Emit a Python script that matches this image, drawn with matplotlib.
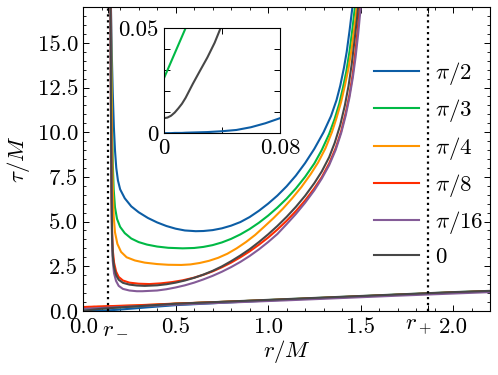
import matplotlib
matplotlib.use("Agg")
import matplotlib.pyplot as plt
import matplotlib.transforms as mtransforms
from matplotlib.ticker import MultipleLocator, FormatStrFormatter

plt.rcParams["font.family"] = ["cmr10"]
plt.rcParams["mathtext.fontset"] = "cm"
plt.rcParams["axes.formatter.use_mathtext"] = True
plt.rcParams["font.size"] = 16.5

# horizon radii (a = 0.5 M)
r_minus = 0.134
r_plus = 1.866

colors = ["#0C5DA5", "#00B945", "#FF9500", "#FF2C00", "#845B97", "#474747"]
labels = [r"$\pi/2$", r"$\pi/3$", r"$\pi/4$", r"$\pi/8$", r"$\pi/16$", r"$0$"]

# upper branches (r, tau)
r_pi2 = [0.150, 0.155, 0.160, 0.166, 0.172, 0.179, 0.188, 0.200, 0.225, 0.26, 0.30, 0.35, 0.40, 0.45,
         0.50, 0.55, 0.609, 0.65, 0.70, 0.75, 0.80, 0.85, 0.90, 0.95, 1.00, 1.05, 1.10, 1.15, 1.20,
         1.25, 1.30, 1.34, 1.37, 1.39, 1.41, 1.425, 1.44, 1.45, 1.457]
t_pi2 = [17.1, 14.3, 12.2, 10.3, 9.0, 8.0, 7.3, 6.8, 6.3, 5.85, 5.52, 5.2, 4.95, 4.75,
         4.6, 4.5, 4.46, 4.47, 4.52, 4.62, 4.77, 4.97, 5.25, 5.6, 6.0, 6.45, 6.97, 7.57, 8.27,
         9.07, 10.0, 10.9, 11.8, 12.6, 13.6, 14.5, 15.65, 16.5, 17.1]

r_pi3 = [0.149, 0.152, 0.156, 0.160, 0.165, 0.172, 0.183, 0.200, 0.225, 0.26, 0.30, 0.345, 0.40, 0.46,
         0.538, 0.60, 0.65, 0.70, 0.75, 0.80, 0.85, 0.90, 0.95, 1.00, 1.05, 1.10, 1.15, 1.20, 1.25,
         1.29, 1.33, 1.36, 1.385, 1.405, 1.423, 1.44, 1.455, 1.466, 1.472]
t_pi3 = [17.1, 13.5, 10.5, 8.3, 6.8, 5.8, 5.15, 4.7, 4.35, 4.05, 3.85, 3.71, 3.6, 3.53,
         3.5, 3.52, 3.58, 3.68, 3.83, 4.03, 4.28, 4.58, 4.93, 5.33, 5.78, 6.28, 6.85, 7.5, 8.25,
         9.0, 9.9, 10.75, 11.6, 12.5, 13.4, 14.5, 15.7, 16.7, 17.2]

r_pi4 = [0.150, 0.153, 0.156, 0.160, 0.165, 0.172, 0.185, 0.205, 0.235, 0.28, 0.333, 0.40, 0.46, 0.53,
         0.58, 0.63, 0.68, 0.73, 0.78, 0.83, 0.88, 0.93, 0.98, 1.03, 1.08, 1.13, 1.18, 1.23, 1.27,
         1.31, 1.345, 1.37, 1.395, 1.415, 1.435, 1.452, 1.467, 1.477, 1.483]
t_pi4 = [17.1, 13.0, 9.5, 7.0, 5.3, 4.4, 3.75, 3.3, 3.0, 2.82, 2.7, 2.62, 2.58, 2.57,
         2.6, 2.68, 2.8, 2.97, 3.2, 3.5, 3.85, 4.25, 4.72, 5.2, 5.72, 6.3, 6.93, 7.65, 8.3,
         9.1, 10.0, 10.8, 11.7, 12.6, 13.6, 14.7, 15.9, 16.8, 17.3]

r_pi8 = [0.148, 0.150, 0.153, 0.156, 0.160, 0.167, 0.178, 0.192, 0.215, 0.25, 0.30, 0.358, 0.42, 0.48,
         0.538, 0.60, 0.65, 0.70, 0.75, 0.80, 0.85, 0.90, 0.95, 1.00, 1.05, 1.10, 1.15, 1.20, 1.25,
         1.29, 1.33, 1.365, 1.395, 1.42, 1.44, 1.457, 1.472, 1.485, 1.495, 1.500]
t_pi8 = [17.1, 12.0, 7.0, 4.6, 3.4, 2.7, 2.2, 1.9, 1.7, 1.58, 1.52, 1.5, 1.54, 1.61,
         1.71, 1.86, 2.02, 2.21, 2.44, 2.7, 3.0, 3.33, 3.7, 4.1, 4.55, 5.04, 5.58, 6.18, 6.86,
         7.48, 8.25, 9.1, 10.05, 11.1, 12.1, 13.2, 14.5, 15.8, 17.0, 17.5]

r_pi16 = [0.148, 0.150, 0.153, 0.156, 0.160, 0.167, 0.178, 0.192, 0.215, 0.25, 0.29, 0.32, 0.40, 0.45,
          0.50, 0.55, 0.60, 0.65, 0.70, 0.75, 0.80, 0.85, 0.90, 0.95, 1.00, 1.05, 1.10, 1.15, 1.20,
          1.25, 1.29, 1.33, 1.365, 1.395, 1.42, 1.44, 1.458, 1.473, 1.487, 1.498, 1.505]
t_pi16 = [17.1, 12.0, 7.0, 4.0, 2.8, 2.1, 1.67, 1.4, 1.23, 1.14, 1.1, 1.1, 1.14, 1.21,
          1.31, 1.43, 1.58, 1.76, 1.96, 2.19, 2.45, 2.74, 3.07, 3.44, 3.85, 4.3, 4.85, 5.42, 6.05,
          6.75, 7.4, 8.15, 9.0, 9.95, 10.95, 11.95, 13.05, 14.2, 15.5, 16.7, 17.4]

r_zero = [0.148, 0.150, 0.153, 0.156, 0.160, 0.167, 0.178, 0.192, 0.215, 0.25, 0.29, 0.333, 0.40, 0.45,
          0.50, 0.55, 0.60, 0.65, 0.70, 0.75, 0.80, 0.85, 0.90, 0.95, 1.00, 1.05, 1.10, 1.15, 1.20,
          1.25, 1.29, 1.33, 1.36, 1.39, 1.415, 1.435, 1.452, 1.468, 1.481, 1.49]
t_zero = [17.1, 12.0, 7.0, 4.3, 3.1, 2.45, 2.0, 1.74, 1.57, 1.47, 1.42, 1.40, 1.43, 1.49,
          1.58, 1.7, 1.85, 2.03, 2.24, 2.49, 2.78, 3.1, 3.45, 3.85, 4.28, 4.75, 5.26, 5.82, 6.44,
          7.15, 7.8, 8.6, 9.4, 10.4, 11.5, 12.6, 13.8, 15.2, 16.4, 17.4]

# lower branches near the axis (same r grid for all six)
r_low = [0.0, 0.0025, 0.005, 0.0075, 0.01, 0.0125, 0.015, 0.02, 0.025, 0.03, 0.035, 0.04, 0.05, 0.06,
         0.07, 0.08, 0.1, 0.12, 0.16, 0.2, 0.28, 0.35, 0.5, 0.8, 1.1, 1.4, 1.7, 2.0, 2.2]
low_pi2 = [0.0, 0.0, 0.0, 0.0001, 0.0001, 0.0001, 0.0002, 0.0003, 0.0004, 0.0005, 0.0007, 0.0009, 0.0015,
           0.0028, 0.0047, 0.0071, 0.013, 0.022, 0.045, 0.075, 0.14, 0.2, 0.32, 0.48, 0.63, 0.76, 0.9,
           1.02, 1.1]
low_pi3 = [0.026, 0.030, 0.034, 0.038, 0.042, 0.046, 0.05, 0.057, 0.064, 0.07, 0.076, 0.082, 0.093,
           0.104, 0.114, 0.124, 0.14, 0.155, 0.18, 0.205, 0.25, 0.3, 0.4, 0.52, 0.65, 0.78, 0.91,
           1.04, 1.11]
low_pi4 = [0.2, 0.2, 0.2, 0.2, 0.2, 0.2, 0.2, 0.205, 0.205, 0.21, 0.21, 0.21, 0.215,
           0.22, 0.22, 0.225, 0.23, 0.24, 0.255, 0.27, 0.3, 0.33, 0.4, 0.52, 0.64, 0.77, 0.9,
           1.03, 1.1]
low_pi8 = [0.22, 0.22, 0.22, 0.22, 0.22, 0.22, 0.22, 0.225, 0.225, 0.23, 0.23, 0.23, 0.235,
           0.24, 0.24, 0.245, 0.25, 0.26, 0.27, 0.285, 0.31, 0.34, 0.41, 0.52, 0.64, 0.77, 0.9,
           1.03, 1.1]
low_pi16 = [0.12, 0.12, 0.12, 0.12, 0.12, 0.12, 0.125, 0.125, 0.13, 0.13, 0.135, 0.135, 0.14,
            0.145, 0.15, 0.155, 0.165, 0.175, 0.195, 0.215, 0.25, 0.28, 0.35, 0.47, 0.59, 0.72, 0.85,
            0.97, 1.05]
low_zero = [0.0071, 0.0074, 0.0083, 0.0098, 0.0118, 0.014, 0.0168, 0.0235, 0.0298, 0.036, 0.043, 0.0515,
            0.064, 0.076, 0.087, 0.098, 0.118, 0.135, 0.165, 0.195, 0.25, 0.3, 0.4, 0.53, 0.66, 0.79,
            0.92, 1.05, 1.12]

upper = [(r_pi2, t_pi2), (r_pi3, t_pi3), (r_pi4, t_pi4), (r_pi8, t_pi8), (r_pi16, t_pi16), (r_zero, t_zero)]
lower = [low_pi2, low_pi3, low_pi4, low_pi8, low_pi16, low_zero]

fig = plt.figure(figsize=(4.98, 3.75), dpi=100)
ax = fig.add_axes([0.167, 0.171, 0.817, 0.81])

for (r, t), low, c, lab in zip(upper, lower, colors, labels):
    ax.plot(r, t, color=c, lw=1.5, label=lab)
    ax.plot(r_low, low, color=c, lw=1.5)

ax.axvline(r_minus, color="k", ls=":", lw=1.6)
ax.axvline(r_plus, color="k", ls=":", lw=1.6)

ax.set_xlim(0, 2.2)
ax.set_ylim(0, 17)
ax.set_xticks([0.0, r_minus, 0.5, 1.0, 1.5, r_plus, 2.0])
ax.set_xticklabels(["0.0", r"$r_-$", "0.5", "1.0", "1.5", r"$r_+$", "2.0"])
ax.xaxis.set_minor_locator(MultipleLocator(0.1))
ax.yaxis.set_major_locator(MultipleLocator(2.5))
ax.yaxis.set_minor_locator(MultipleLocator(0.5))
ax.yaxis.set_major_formatter(FormatStrFormatter("%.1f"))
ax.tick_params(which="both", direction="in", top=True, right=True)
ax.tick_params(which="major", length=4.5, width=0.7)
ax.tick_params(which="minor", length=2.3, width=0.6)
ax.tick_params(axis="x", which="major", pad=5)
for s in ax.spines.values():
    s.set_linewidth(0.8)
ax.set_xlabel(r"$r/M$", labelpad=0)
ax.set_ylabel(r"$\tau/M$", labelpad=4)

# nudge the horizon labels off their neighbours
xt = ax.get_xticklabels()
xt[1].set_transform(xt[1].get_transform() + mtransforms.ScaledTranslation(7 / 100, 0, fig.dpi_scale_trans))
xt[5].set_transform(xt[5].get_transform() + mtransforms.ScaledTranslation(-10 / 100, 0, fig.dpi_scale_trans))

ax.legend(loc="upper left", bbox_to_anchor=(0.715, 0.826), frameon=False, borderpad=0,
          borderaxespad=0, handlelength=1.97, labelspacing=0.45, handletextpad=0.7)

# inset near r = 0
ins = fig.add_axes([0.329, 0.645, 0.233, 0.28])
for low, c in zip(lower, colors):
    ins.plot(r_low, low, color=c, lw=1.5)
ins.set_xlim(0, 0.08)
ins.set_ylim(0, 0.05)
ins.set_xticks([0, 0.04, 0.08])
ins.set_xticklabels(["0", "", "0.08"])
ins.set_yticks([0, 0.01, 0.02, 0.03, 0.04, 0.05])
ins.set_yticklabels(["0", "", "", "", "", "0.05"])
ins.tick_params(which="both", direction="in", top=True, right=True, length=4, width=0.7)
for s in ins.spines.values():
    s.set_linewidth(0.8)

fig.savefig("out.png", dpi=100)
